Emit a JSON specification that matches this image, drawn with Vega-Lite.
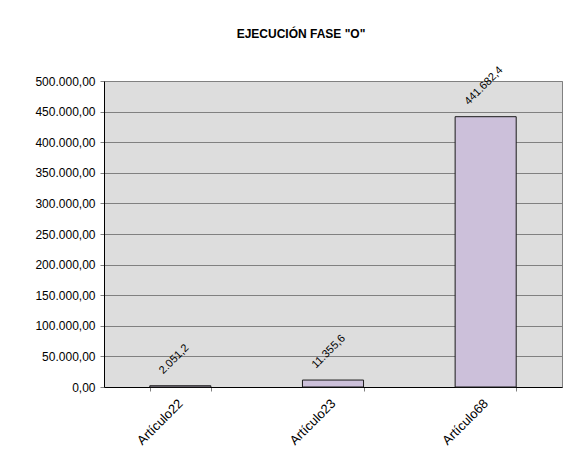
{
  "$schema": "https://vega.github.io/schema/vega-lite/v6.json",
  "autosize": "none",
  "width": 458,
  "height": 306,
  "padding": {"left": 104, "top": 81, "right": 13, "bottom": 88},
  "background": "white",
  "title": {"text": "EJECUCIÓN FASE \"O\"", "font": "Liberation Sans", "fontSize": 12, "fontWeight": "bold", "color": "black", "anchor": "middle", "dx": -32, "offset": 23},
  "config": {
    "locale": {"number": {"decimal": ",", "thousands": ".", "grouping": [3], "currency": ["", ""]}},
    "view": {"fill": "#DDDDDD", "stroke": "#808080", "strokeWidth": 1},
    "font": "Liberation Sans"
  },
  "data": {"values": [
    {"articulo": "Artículo22", "valor": 2051.2},
    {"articulo": "Artículo23", "valor": 11355.6},
    {"articulo": "Artículo68", "valor": 441682.4}
  ]},
  "encoding": {
    "x": {"field": "articulo", "type": "nominal", "sort": null,
      "scale": {"paddingInner": 0.6, "paddingOuter": 0.3},
      "axis": {"title": null, "labelAngle": -45, "labelAlign": "right", "labelBaseline": "middle", "labelPadding": 10, "labelFontSize": 13, "labelColor": "black", "labelFont": "Liberation Sans", "domainColor": "black", "tickColor": "#808080", "tickSize": 4, "tickBand": "extent"}},
    "y": {"field": "valor", "type": "quantitative",
      "scale": {"domain": [0, 500000], "nice": false},
      "axis": {"title": null, "values": [0, 50000, 100000, 150000, 200000, 250000, 300000, 350000, 400000, 450000, 500000], "format": ",.2f", "labelFontSize": 12, "labelColor": "black", "labelFont": "Liberation Sans", "labelPadding": 5, "tickSize": 4, "tickColor": "#808080", "domainColor": "black", "grid": true, "gridColor": "#808080", "gridOpacity": 1}}
  },
  "layer": [
    {"mark": {"type": "bar", "fill": "#CCC0DA", "stroke": "#1a1a1a", "strokeWidth": 1}},
    {"mark": {"type": "text", "angle": -45, "align": "left", "baseline": "alphabetic", "dx": -4, "dy": -20, "fontSize": 11, "color": "black", "font": "Liberation Sans"},
      "encoding": {"text": {"field": "valor", "type": "quantitative", "format": ",.1f"}}}
  ]
}
